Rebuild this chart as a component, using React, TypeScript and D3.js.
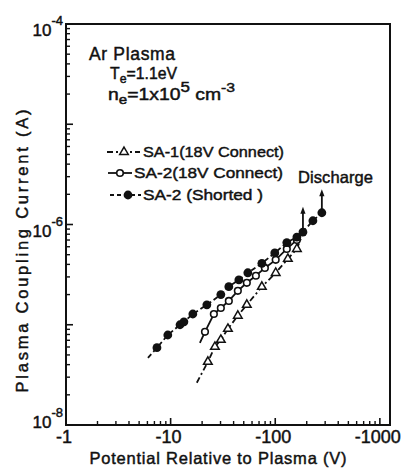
import React from "react";
import * as d3 from "d3";

// ---- data ----
const xTickValues = [1, 10, 100, 1000];
const xTickLabels = ["-1", "-10", "-100", "-1000"];
const yTickValues = [1e-8, 1e-6, 1e-4];
const yTickExponents = ["-8", "-6", "-4"];

// SA-1 (18V Connect) — open triangles, dash-dot line
const sa1Potential = [22.7, 26.5, 30.2, 35.3, 43.9, 53.5, 74.5, 101, 132, 161];
const sa1Current = [4.27e-8, 6.02e-8, 7.07e-8, 9.1e-8, 1.23e-7, 1.58e-7, 2.39e-7, 3.29e-7, 4.54e-7, 5.71e-7];
const sa1LineStart = [17.8, 2.64e-8];
const sa1LineEnd = [184, 8.2e-7];

// SA-2 (18V Connect) — open circles, solid line
const sa2Potential = [21.3, 25.9, 30.2, 36.0, 43.9, 53.5, 65.3, 79.6, 101, 129, 161];
const sa2Current = [8.5e-8, 1.28e-7, 1.47e-7, 1.73e-7, 2.18e-7, 2.62e-7, 3.08e-7, 3.69e-7, 4.44e-7, 5.71e-7, 7.02e-7];
const sa2LineStart = [19.05, 6.6e-8];

// SA-2 (Shorted) — filled circles, dashed line
const shortPotential = [7.4, 9.4, 12.3, 13.4, 16.3, 22.2, 30.2, 36, 44.9, 54.7, 74.5, 99, 129, 161, 184, 229, 279];
const shortCurrent = [5.9e-8, 7.9e-8, 1.0e-7, 1.07e-7, 1.28e-7, 1.58e-7, 2.0e-7, 2.4e-7, 2.8e-7, 3.3e-7, 4.1e-7, 5.2e-7, 6.6e-7, 7.5e-7, 8.4e-7, 1.09e-6, 1.31e-6];
const shortLineStart = [6.07, 4.68e-8];

// discharge arrows
const dischargePotential = [184, 279];
const dischargeFrom = [8.4e-7, 1.31e-6];
const dischargeTo = [1.5e-6, 2.25e-6];

const legendLabels = ["SA-1(18V Connect)", "SA-2(18V Connect)", "SA-2 (Shorted )"];

const FONT = "'Liberation Sans', Arial, Helvetica, sans-serif";
const INK = "#111";
const TS = 0.45; // text stroke to mimic heavy scan print

export default function App() {
  const x = d3.scaleLog().domain([1, 1250]).range([66, 390]);
  const y = d3.scaleLog().domain([1e-8, 1e-4]).range([425, 24]);

  const line = d3
    .line<number[]>()
    .x((d) => x(d[0]))
    .y((d) => y(d[1]));

  const zip = (a: number[], b: number[]) => a.map((v, i) => [v, b[i]]);
  const sa1Pts = zip(sa1Potential, sa1Current);
  const sa2Pts = zip(sa2Potential, sa2Current);
  const shPts = zip(shortPotential, shortCurrent);

  const triangle = d3.symbol().type(d3.symbolTriangle).size(32)() as string;

  // minor ticks
  const xMinor: number[] = [];
  for (let e = 0; e < 4; e++)
    for (let m = 2; m <= 9; m++) {
      const v = m * Math.pow(10, e);
      if (v < 1250) xMinor.push(v);
    }
  const xMajor = [1, 10, 100, 1000];
  const yMinor: number[] = [];
  for (let e = -8; e < -4; e++) for (let m = 2; m <= 9; m++) yMinor.push(m * Math.pow(10, e));
  const yMajor = [1e-8, 1e-7, 1e-6, 1e-5, 1e-4];

  const legendRows = [157, 178, 200];

  return (
    <svg
      width={405}
      height={468}
      style={{ position: "absolute", left: 0, top: 0, background: "#fff" }}
      fontFamily={FONT}
    >
      <rect x={0} y={0} width={405} height={468} fill="#fff" />
      {/* frame */}
      <rect x={66} y={24} width={324} height={401} fill="none" stroke={INK} strokeWidth={2} />

      {/* x ticks (inward) */}
      {xMinor.map((v, i) => (
        <line key={"xm" + i} x1={x(v)} x2={x(v)} y1={425} y2={421} stroke={INK} strokeWidth={1.4} />
      ))}
      {xMajor.map((v, i) => (
        <line key={"xM" + i} x1={x(v)} x2={x(v)} y1={425} y2={418} stroke={INK} strokeWidth={1.6} />
      ))}
      {/* y ticks (inward) */}
      {yMinor.map((v, i) => (
        <line key={"ym" + i} x1={66} x2={70} y1={y(v)} y2={y(v)} stroke={INK} strokeWidth={1.4} />
      ))}
      {yMajor.map((v, i) => (
        <line key={"yM" + i} x1={66} x2={73} y1={y(v)} y2={y(v)} stroke={INK} strokeWidth={1.6} />
      ))}

      <g fill={INK} stroke={INK} strokeWidth={TS}>
        {/* x tick labels */}
        {xTickValues.map((v, i) => (
          <text key={"xl" + i} x={x(v) - 2} y={443} textAnchor="middle" fontSize={18}>
            {xTickLabels[i]}
          </text>
        ))}
        {/* y tick labels */}
        {yTickValues.map((v, i) => (
          <text key={"yl" + i} x={63} y={y(v) + (i === 0 ? 3 : 12)} textAnchor="end" fontSize={17}>
            10
            <tspan fontSize={13} dy={-11}>
              {yTickExponents[i]}
            </tspan>
          </text>
        ))}

        {/* axis titles */}
        <text x={218} y={464} textAnchor="middle" fontSize={16.5} textLength={257} lengthAdjust="spacing">
          Potential Relative to Plasma (V)
        </text>
        <text
          transform="translate(28,251) rotate(-90)"
          textAnchor="middle"
          fontSize={16.5}
          textLength={283}
          lengthAdjust="spacing"
        >
          Plasma Coupling Current (A)
        </text>

        {/* annotations */}
        <text x={89} y={60} fontSize={17.5} textLength={86} lengthAdjust="spacing">
          Ar Plasma
        </text>
        <text x={110} y={79} fontSize={16} textLength={67} lengthAdjust="spacingAndGlyphs">
          T<tspan fontSize={12.5} dy={4}>e</tspan>
          <tspan dy={-4}>=1.1eV</tspan>
        </text>
        <text x={108} y={100} fontSize={16} textLength={127} lengthAdjust="spacingAndGlyphs">
          n<tspan fontSize={12.5} dy={4}>e</tspan>
          <tspan dy={-4}>=1x10</tspan>
          <tspan fontSize={14} dy={-8}>5</tspan>
          <tspan dy={8}> cm</tspan>
          <tspan fontSize={13} dy={-8}>-3</tspan>
        </text>

        {/* legend texts */}
        <text x={143} y={legendRows[0]} fontSize={15.5} textLength={141} lengthAdjust="spacingAndGlyphs">
          {legendLabels[0]}
        </text>
        <text x={134} y={legendRows[1]} fontSize={15.5} textLength={149} lengthAdjust="spacingAndGlyphs">
          {legendLabels[1]}
        </text>
        <text x={143} y={legendRows[2]} fontSize={15.5} textLength={120} lengthAdjust="spacingAndGlyphs">
          {legendLabels[2]}
        </text>

        <text x={298} y={183} fontSize={16.5} textLength={75} lengthAdjust="spacing">
          Discharge
        </text>
      </g>

      {/* legend symbols */}
      <line x1={107} x2={140} y1={legendRows[0] - 5} y2={legendRows[0] - 5} stroke={INK} strokeWidth={1.8} strokeDasharray="6,3,2,3" />
      <path d={triangle} transform={`translate(124,${legendRows[0] - 5})`} fill="#fff" stroke={INK} strokeWidth={1.5} />
      <line x1={108} x2={132} y1={legendRows[1] - 5} y2={legendRows[1] - 5} stroke={INK} strokeWidth={1.8} />
      <circle cx={120} cy={legendRows[1] - 5} r={3.3} fill="#fff" stroke={INK} strokeWidth={1.6} />
      <line x1={110} x2={141} y1={legendRows[2] - 5} y2={legendRows[2] - 5} stroke={INK} strokeWidth={1.8} strokeDasharray="4,3" />
      <circle cx={128} cy={legendRows[2] - 5} r={4.4} fill={INK} />

      {/* series lines */}
      <path d={line([sa1LineStart, ...sa1Pts, sa1LineEnd]) as string} fill="none" stroke={INK} strokeWidth={1.8} strokeDasharray="6,3,2,3" />
      <path d={line([sa2LineStart, ...sa2Pts]) as string} fill="none" stroke={INK} strokeWidth={1.8} />
      <path d={line([shortLineStart, ...shPts]) as string} fill="none" stroke={INK} strokeWidth={1.8} strokeDasharray="5,3" />

      {/* markers */}
      {sa1Pts.map((d, i) => (
        <path key={"t" + i} d={triangle} transform={`translate(${x(d[0])},${y(d[1])})`} fill="#fff" stroke={INK} strokeWidth={1.5} />
      ))}
      {sa2Pts.map((d, i) => (
        <circle key={"o" + i} cx={x(d[0])} cy={y(d[1])} r={3.3} fill="#fff" stroke={INK} strokeWidth={1.6} />
      ))}
      {shPts.map((d, i) => (
        <circle key={"f" + i} cx={x(d[0])} cy={y(d[1])} r={4.4} fill={INK} />
      ))}

      {/* discharge arrows */}
      {dischargePotential.map((v, i) => {
        const px = x(v);
        const y0 = y(dischargeFrom[i]);
        const y1 = y(dischargeTo[i]);
        return (
          <g key={"a" + i}>
            <line x1={px} x2={px} y1={y0} y2={y1 + 5} stroke={INK} strokeWidth={1.8} />
            <path d={`M${px},${y1} L${px - 2.6},${y1 + 7} L${px + 2.6},${y1 + 7} Z`} fill={INK} />
          </g>
        );
      })}
    </svg>
  );
}
